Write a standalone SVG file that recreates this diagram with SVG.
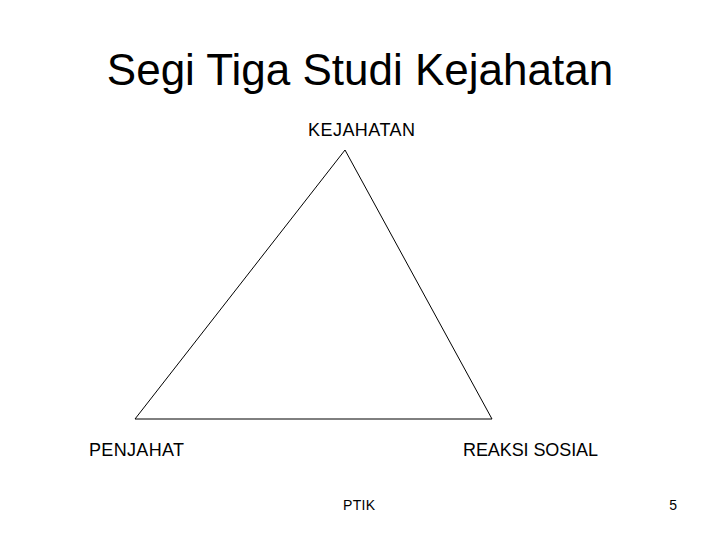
<svg xmlns="http://www.w3.org/2000/svg" width="720" height="540" viewBox="0 0 720 540">
<style>
text{font-family:"Liberation Sans",Arial,sans-serif;fill:#000}
.lbl{font-size:18px}
.foot{font-size:14px}
.edge{stroke:#000;stroke-width:1;fill:none}
</style>
<rect width="720" height="540" fill="#fff"/>
<text x="360" y="85" font-size="44" text-anchor="middle">Segi Tiga Studi Kejahatan</text>
<g id="connectors">
<line class="edge" x1="345" y1="150" x2="135" y2="419"/>
<line class="edge" x1="345" y1="150" x2="492" y2="419"/>
<line class="edge" x1="135" y1="419" x2="492" y2="419"/>
</g>
<g id="kejahatan"><text class="lbl" x="308" y="136" textLength="107" lengthAdjust="spacing">KEJAHATAN</text></g>
<g id="penjahat"><text class="lbl" x="89" y="456" textLength="95" lengthAdjust="spacing">PENJAHAT</text></g>
<g id="reaksi"><text class="lbl" x="463" y="456" textLength="135" lengthAdjust="spacing">REAKSI SOSIAL</text></g>
<text class="foot" x="343" y="510" textLength="32" lengthAdjust="spacing">PTIK</text>
<text class="foot" x="677" y="510" text-anchor="end">5</text>
</svg>
